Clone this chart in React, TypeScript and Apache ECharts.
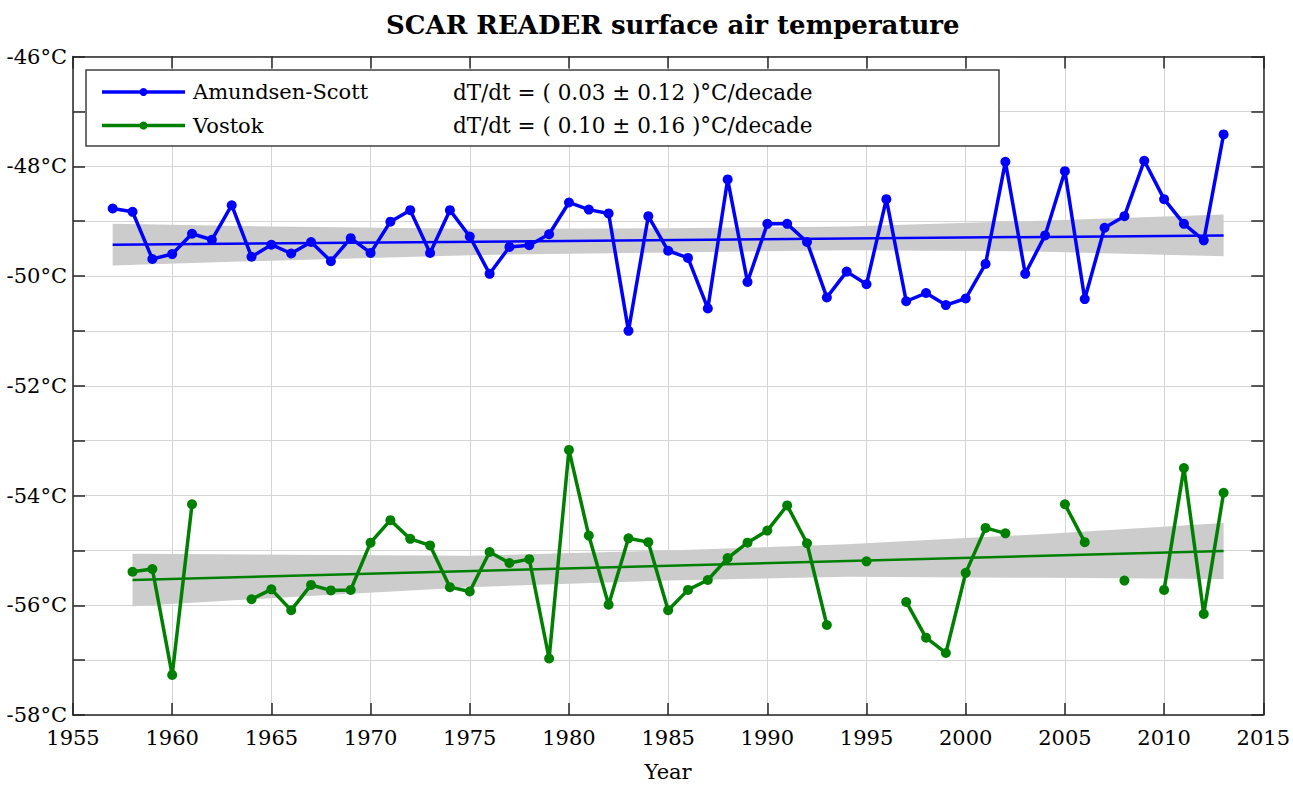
import React, { useEffect, useRef } from 'react';
import * as echarts from 'echarts';

const TITLE = 'SCAR READER surface air temperature';
const X_NAME = 'Year';

const asYears = [1957, 1958, 1959, 1960, 1961, 1962, 1963, 1964, 1965, 1966, 1967, 1968, 1969, 1970, 1971, 1972, 1973, 1974, 1975, 1976, 1977, 1978, 1979, 1980, 1981, 1982, 1983, 1984, 1985, 1986, 1987, 1988, 1989, 1990, 1991, 1992, 1993, 1994, 1995, 1996, 1997, 1998, 1999, 2000, 2001, 2002, 2003, 2004, 2005, 2006, 2007, 2008, 2009, 2010, 2011, 2012, 2013];
const amundsenScott = [-48.77, -48.83, -49.69, -49.6, -49.23, -49.34, -48.71, -49.65, -49.43, -49.59, -49.38, -49.73, -49.31, -49.58, -49.01, -48.8, -49.58, -48.8, -49.28, -49.96, -49.47, -49.44, -49.24, -48.66, -48.79, -48.86, -51.0, -48.91, -49.54, -49.67, -50.59, -48.24, -50.11, -49.05, -49.05, -49.38, -50.39, -49.92, -50.15, -48.6, -50.46, -50.31, -50.53, -50.41, -49.78, -47.92, -49.96, -49.26, -48.09, -50.42, -49.12, -48.91, -47.9, -48.6, -49.05, -49.35, -47.42];

const vkYears = [1958, 1959, 1960, 1961, 1962, 1963, 1964, 1965, 1966, 1967, 1968, 1969, 1970, 1971, 1972, 1973, 1974, 1975, 1976, 1977, 1978, 1979, 1980, 1981, 1982, 1983, 1984, 1985, 1986, 1987, 1988, 1989, 1990, 1991, 1992, 1993, 1994, 1995, 1996, 1997, 1998, 1999, 2000, 2001, 2002, 2003, 2004, 2005, 2006, 2007, 2008, 2009, 2010, 2011, 2012, 2013];
const vostok: (number | null)[] = [-55.39, -55.34, -57.27, -54.16, null, null, -55.89, -55.71, -56.09, -55.63, -55.73, -55.72, -54.86, -54.45, -54.79, -54.91, -55.67, -55.75, -55.03, -55.23, -55.16, -56.97, -53.17, -54.73, -55.99, -54.78, -54.85, -56.09, -55.72, -55.54, -55.14, -54.86, -54.64, -54.18, -54.87, -56.36, null, -55.2, null, -55.94, -56.59, -56.87, -55.41, -54.59, -54.69, null, null, -54.16, -54.85, null, -55.55, null, -55.72, -53.5, -56.16, -53.95];

// linear trends (end points)
const asTrendYears = [1957, 2013];
const asTrend = [-49.43, -49.26];
const vkTrendYears = [1958, 2013];
const vkTrend = [-55.54, -55.01];

// uncertainty bands
const asBandYears = [1957, 1965, 1975, 1985, 1994, 2003, 2013];
const asBandLow = [-49.81, -49.72, -49.62, -49.57, -49.53, -49.55, -49.64];
const asBandHigh = [-49.05, -49.1, -49.14, -49.13, -49.1, -49.0, -48.88];
const vkBandYears = [1958, 1966, 1975, 1985, 1994, 2004, 2013];
const vkBandLow = [-56.02, -55.85, -55.67, -55.55, -55.48, -55.5, -55.52];
const vkBandHigh = [-55.06, -55.08, -55.1, -55.0, -54.89, -54.7, -54.5];

const legendNames = ['Amundsen-Scott', 'Vostok'];
const legendTrends = ['dT/dt = ( 0.03 ± 0.12 )°C/decade', 'dT/dt = ( 0.10 ± 0.16 )°C/decade'];

const BLUE = '#0000ff';
const GREEN = '#008000';
const FONT = 'DejaVu Serif';

function bandSeries(years: number[], low: number[], high: number[]) {
  const data = years.map((y, i) => [y, low[i], high[i]]);
  return {
    type: 'custom',
    silent: true,
    z: 1,
    data,
    encode: { x: 0, y: [1, 2] },
    renderItem: (params: any, api: any) => {
      if (params.dataIndex !== 0) return null;
      const top = data.map((d) => api.coord([d[0], d[2]]));
      const bot = data.map((d) => api.coord([d[0], d[1]])).reverse();
      return {
        type: 'polygon',
        shape: { points: top.concat(bot) },
        style: { fill: '#cccccc' },
      };
    },
  };
}

export default function App() {
  const ref = useRef<HTMLDivElement>(null);
  useEffect(() => {
    const chart = echarts.init(ref.current!, undefined, { renderer: 'svg' });
    const gridLeft = 73, gridRight = 29, gridTop = 56.5, gridBottom = 67.5;
    const axisColor = '#262626';
    const legendGraphic: any[] = [
      {
        type: 'rect',
        shape: { x: 86, y: 70, width: 913, height: 76 },
        style: { fill: '#ffffff', stroke: '#404040', lineWidth: 1.5 },
        z: 100,
      },
    ];
    const rowsY = [92, 125.5];
    const colors = [BLUE, GREEN];
    rowsY.forEach((ry, i) => {
      legendGraphic.push(
        { type: 'line', shape: { x1: 102, y1: ry, x2: 185, y2: ry }, style: { stroke: colors[i], lineWidth: 3.5 }, z: 101 },
        { type: 'circle', shape: { cx: 143.5, cy: ry, r: 4 }, style: { fill: colors[i] }, z: 102 },
        { type: 'text', x: 193, y: ry, style: { text: legendNames[i], font: `21px "${FONT}"`, fill: '#000', verticalAlign: 'middle' }, z: 102 },
        { type: 'text', x: 453, y: ry, style: { text: legendTrends[i], font: `21.5px "${FONT}"`, fill: '#000', verticalAlign: 'middle' }, z: 102 },
      );
    });

    const option: any = {
      animation: false,
      backgroundColor: '#ffffff',
      title: {
        text: TITLE,
        left: 381,
        top: 7,
        textStyle: { fontFamily: FONT, fontSize: 26, fontWeight: 'bold', color: '#000' },
      },
      grid: { left: gridLeft, right: gridRight, top: gridTop, bottom: gridBottom, containLabel: false },
      xAxis: [
        {
          type: 'value',
          min: 1955,
          max: 2015,
          interval: 5,
          name: X_NAME,
          nameLocation: 'middle',
          nameGap: 46,
          nameTextStyle: { fontFamily: FONT, fontSize: 21, color: '#000' },
          axisLine: { show: true, onZero: false, lineStyle: { color: axisColor, width: 1.5 } },
          axisTick: { show: true, inside: true, length: 12, lineStyle: { color: axisColor, width: 1.5 } },
          axisLabel: { fontFamily: FONT, fontSize: 21, color: '#000', margin: 12, formatter: (v: number) => String(v) },
          splitLine: { show: true, lineStyle: { color: '#d4d4d4', width: 1 } },
        },
        {
          type: 'value',
          position: 'top',
          min: 1955,
          max: 2015,
          interval: 5,
          axisLine: { show: true, onZero: false, lineStyle: { color: axisColor, width: 1.5 } },
          axisTick: { show: true, inside: true, length: 12, lineStyle: { color: axisColor, width: 1.5 } },
          axisLabel: { show: false },
          splitLine: { show: false },
        },
      ],
      yAxis: [
        {
          type: 'value',
          min: -58,
          max: -46,
          interval: 1,
          axisLine: { show: true, onZero: false, lineStyle: { color: axisColor, width: 1.5 } },
          axisTick: { show: true, inside: true, length: 12, lineStyle: { color: axisColor, width: 1.5 } },
          axisLabel: {
            fontFamily: FONT,
            fontSize: 21,
            color: '#000',
            margin: 6,
            formatter: (v: number) => (Math.round(v) % 2 === 0 ? `${v}°C` : ''),
          },
          splitLine: { show: true, lineStyle: { color: '#d4d4d4', width: 1 } },
        },
        {
          type: 'value',
          position: 'right',
          min: -58,
          max: -46,
          interval: 1,
          axisLine: { show: true, onZero: false, lineStyle: { color: axisColor, width: 1.5 } },
          axisTick: { show: true, inside: true, length: 12, lineStyle: { color: axisColor, width: 1.5 } },
          axisLabel: { show: false },
          splitLine: { show: false },
        },
      ],
      series: [
        bandSeries(asBandYears, asBandLow, asBandHigh),
        bandSeries(vkBandYears, vkBandLow, vkBandHigh),
        {
          name: 'Amundsen-Scott trend',
          type: 'line',
          z: 3,
          data: asTrendYears.map((y, i) => [y, asTrend[i]]),
          showSymbol: false,
          lineStyle: { color: BLUE, width: 2.5 },
          silent: true,
        },
        {
          name: 'Vostok trend',
          type: 'line',
          z: 3,
          data: vkTrendYears.map((y, i) => [y, vkTrend[i]]),
          showSymbol: false,
          lineStyle: { color: GREEN, width: 2.5 },
          silent: true,
        },
        {
          name: 'Amundsen-Scott',
          type: 'line',
          z: 4,
          data: asYears.map((y, i) => [y, amundsenScott[i]]),
          symbol: 'circle',
          symbolSize: 10,
          showSymbol: true,
          itemStyle: { color: BLUE },
          lineStyle: { color: BLUE, width: 3.5 },
        },
        {
          name: 'Vostok',
          type: 'line',
          z: 4,
          connectNulls: false,
          data: vkYears.map((y, i) => [y, vostok[i] === null ? '-' : vostok[i]]),
          symbol: 'circle',
          symbolSize: 10,
          showSymbol: true,
          itemStyle: { color: GREEN },
          lineStyle: { color: GREEN, width: 3.5 },
        },
      ],
      graphic: legendGraphic,
    };
    chart.setOption(option);
    return () => chart.dispose();
  }, []);
  return <div ref={ref} style={{ position: 'fixed', left: 0, top: 0, width: 1293, height: 787 }} />;
}
